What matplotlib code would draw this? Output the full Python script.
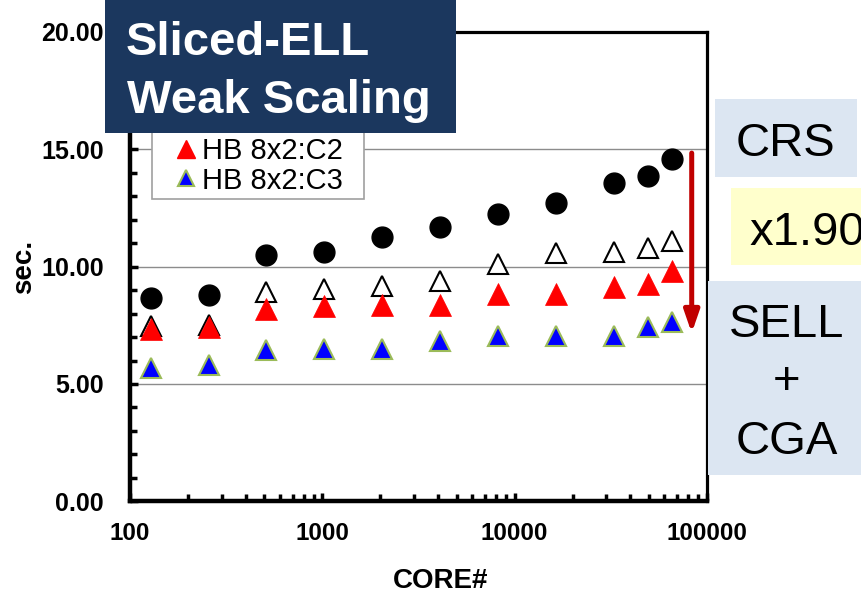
import matplotlib
matplotlib.use("Agg")
import matplotlib.pyplot as plt
from matplotlib.patches import Rectangle
from matplotlib.lines import Line2D
from matplotlib.ticker import FixedLocator, FormatStrFormatter, LogLocator, NullFormatter, MultipleLocator

plt.rcParams['font.family'] = ['Liberation Sans', 'DejaVu Sans']

cores = [128, 256, 512, 1024, 2048, 4096, 8192, 16384, 32768, 49152, 65536]
crs = [8.65, 8.79, 10.49, 10.63, 11.27, 11.67, 12.23, 12.72, 13.55, 13.86, 14.57]
hb_c1 = [7.47, 7.53, 8.93, 9.04, 9.18, 9.38, 10.10, 10.60, 10.64, 10.80, 11.11]
hb_c2 = [7.35, 7.44, 8.19, 8.31, 8.35, 8.36, 8.83, 8.83, 9.12, 9.26, 9.83]
hb_c3 = [5.70, 5.81, 6.43, 6.50, 6.48, 6.85, 7.06, 7.06, 7.06, 7.44, 7.65]
legend_labels = ["HB 8x2:C2", "HB 8x2:C3"]
ytick_values = [0, 5, 10, 15, 20]
xtick_values = [100, 1000, 10000, 100000]

W, H = 861, 598
fig = plt.figure(figsize=(W / 100, H / 100), dpi=100)
ax = fig.add_axes([130 / W, 1 - 501.3 / H, 577 / W, 469.3 / H])

ax.set_xscale('log')
ax.set_xlim(100, 100000)
ax.set_ylim(0, 20)

ax.grid(axis='y', which='major', color='#8c8c8c', linewidth=1.0, zorder=0)
ax.set_axisbelow(True)

ax.plot(cores, crs, linestyle='none', marker='o', markersize=15,
        markerfacecolor='black', markeredgecolor='black', zorder=3)
ax.plot(cores, hb_c1, linestyle='none', marker='^', markersize=15,
        markerfacecolor='white', markeredgecolor='black', markeredgewidth=1.5, zorder=3)
ax.plot(cores, hb_c2, linestyle='none', marker='^', markersize=16,
        markerfacecolor='#ff0000', markeredgecolor='#ff0000', markeredgewidth=0.5, zorder=4)
ax.plot(cores, hb_c3, linestyle='none', marker='^', markersize=15,
        markerfacecolor='#0000ff', markeredgecolor='#9bbb59', markeredgewidth=1.5, zorder=4)

ax.yaxis.set_major_locator(FixedLocator(ytick_values))
ax.yaxis.set_minor_locator(MultipleLocator(1))
ax.yaxis.set_major_formatter(FormatStrFormatter('%.2f'))
ax.xaxis.set_major_locator(FixedLocator(xtick_values))
ax.xaxis.set_major_formatter(FormatStrFormatter('%d'))
ax.xaxis.set_minor_locator(LogLocator(base=10, subs=range(2, 10)))
ax.xaxis.set_minor_formatter(NullFormatter())

ax.tick_params(axis='both', which='both', direction='in', color='black')
ax.tick_params(axis='both', which='major', length=6, width=2.5)
ax.tick_params(axis='both', which='minor', length=5, width=2.5)
ax.tick_params(axis='y', which='major', pad=19, labelsize=18)
ax.tick_params(axis='x', which='major', pad=15, labelsize=17.5)
ax.tick_params(right=False, top=False, which='both')
for lab in ax.get_xticklabels() + ax.get_yticklabels():
    lab.set_fontweight('bold')

for side in ['left', 'bottom']:
    ax.spines[side].set_linewidth(3.2)
for side in ['top', 'right']:
    ax.spines[side].set_linewidth(2.3)

ax.set_ylabel('sec.', fontsize=20, fontweight='bold', labelpad=3)
fig.text(441 / W, 1 - 588 / H, 'CORE#', fontsize=20, fontweight='bold',
         ha='center', va='baseline')

# legend (frame drawn separately so its top is hidden under the title box)
frame = Rectangle((152 / W, 1 - 199 / H), 212 / W, 90 / H, transform=fig.transFigure,
                  facecolor='white', edgecolor='#a0a0a0', linewidth=1.2, zorder=5)
ax.add_artist(frame)
handles = [
    Line2D([], [], linestyle='none', marker='^', markersize=13,
           markerfacecolor='#ff0000', markeredgecolor='#ff0000'),
    Line2D([], [], linestyle='none', marker='^', markersize=12,
           markerfacecolor='#0000ff', markeredgecolor='#9bbb59', markeredgewidth=1.5),
]
leg = ax.legend(handles, legend_labels, loc='lower left',
                bbox_to_anchor=(152 / W, 1 - 199 / H), bbox_transform=fig.transFigure,
                fontsize=21, frameon=False, borderpad=0.15,
                handlelength=2.0, handletextpad=-0.45, labelspacing=0.05,
                borderaxespad=0)
leg.set_zorder(6)

# arrow
ax.annotate('', xy=(0.9735, 0.3585), xycoords='axes fraction',
            xytext=(0.9735, 0.742), textcoords='axes fraction',
            arrowprops=dict(arrowstyle='-|>,head_length=1.3,head_width=0.45',
                            color='#c00000', lw=3.6, shrinkA=0, shrinkB=0),
            zorder=7)

def fig_rect(x0, y0, x1, y1, color, z=10):
    fig.patches.append(Rectangle((x0 / W, 1 - y1 / H), (x1 - x0) / W, (y1 - y0) / H,
                                 transform=fig.transFigure, facecolor=color,
                                 edgecolor='none', zorder=z))

# title box
fig_rect(105, 0, 456, 133, '#1b375e')
fig.text(126 / W, 1 - 55 / H, 'Sliced-ELL', color='white', fontsize=34,
         fontweight='bold', va='baseline', ha='left', zorder=11)
fig.text(127 / W, 1 - 113 / H, 'Weak Scaling', color='white', fontsize=34,
         fontweight='bold', va='baseline', ha='left', zorder=11)

# right side boxes
fig_rect(715, 99, 857, 177, '#dce6f2')
fig.text(785.5 / W, 1 - 156 / H, 'CRS', fontsize=34, va='baseline', ha='center', zorder=11)
fig_rect(731, 188, 870, 265, '#ffffcc')
fig.text(749 / W, 1 - 245 / H, 'x1.90', fontsize=34, va='baseline', ha='left', zorder=11)
fig_rect(708, 281, 870, 475, '#dce6f2')
fig.text(787 / W, 1 - 337 / H, 'SELL', fontsize=34, va='baseline', ha='center', zorder=11)
fig.text(787 / W, 1 - 394 / H, '+', fontsize=34, va='baseline', ha='center', zorder=11)
fig.text(787 / W, 1 - 454 / H, 'CGA', fontsize=34, va='baseline', ha='center', zorder=11)

fig.savefig('out.png', dpi=100)
